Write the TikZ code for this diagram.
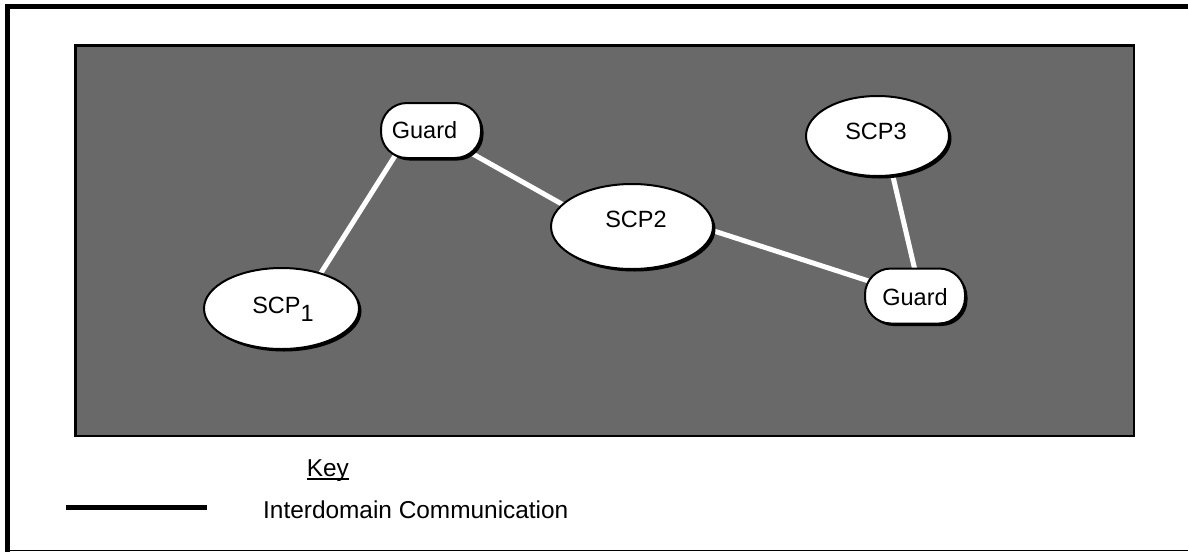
\documentclass[tikz,border=0pt]{standalone}
\usepackage{fontspec}
\setmainfont{Liberation Sans}
\usetikzlibrary{shapes.geometric,shadows,calc}
\pgfdeclarelayer{back}
\pgfdeclarelayer{mid}
\pgfsetlayers{back,mid,main}
\definecolor{shade}{RGB}{105,105,105}
\newcommand\tlabel[3]{\makebox[0pt]{\hspace*{#1}\hspace*{#1}\raisebox{#2}[0pt][0pt]{#3}}}
\newcommand\keyul[1]{\setbox0\hbox{#1}\rlap{\rule[-3.4pt]{\wd0}{1.6pt}}\box0}
\begin{document}
\begin{tikzpicture}[x=1pt,y=-1pt,
  txt/.style={font=\fontsize{23.5}{28}\selectfont},
  keytxt/.style={font=\fontsize{24.4}{29}\selectfont, anchor=base west, inner sep=0pt},
  domnode/.style={txt, draw=black, line width=2pt, fill=white, inner sep=0pt,
     drop shadow={shadow xshift=2.5pt, shadow yshift=-2.5pt, opacity=1, fill=black}},
  scp/.style={domnode, ellipse},
  guard/.style={domnode, rectangle, rounded corners=26pt, minimum width=100pt, minimum height=55pt},
  link/.style={white, line width=5pt},
  keyline/.style={black, line width=5pt},
]
\useasboundingbox (0,0) rectangle (1188,552);
% outer frame
\fill[black] (5,4) rectangle (1188,9);
\fill[black] (5,4) rectangle (10,552);
\draw[black, line width=1.5pt] (5,550.3) -- (1188,550.3);
% shaded domain area
\begin{pgfonlayer}{back}
\draw[fill=shade, draw=black, line width=2.5pt] (75.25,45.25) rectangle (1133.75,435.75);
\end{pgfonlayer}
% nodes
\node[guard] (g1) at (431,130.5) {\tlabel{-6.5pt}{-7.9pt}{Guard}};
\node[guard] (g2) at (915,296) {\tlabel{0pt}{-9.9pt}{Guard}};
\node[scp, minimum width=155pt, minimum height=81pt] (s1) at (281.5,308.5) {\tlabel{1.5pt}{-4.9pt}{SCP\raisebox{-8pt}{1}}};
\node[scp, minimum width=162pt, minimum height=85pt] (s2) at (632,226.5) {\tlabel{4pt}{-1.4pt}{SCP2}};
\node[scp, minimum width=143pt, minimum height=80pt] (s3) at (877.5,136) {\tlabel{-1.5pt}{-3.9pt}{SCP3}};
% links
\begin{pgfonlayer}{mid}
\draw[link] ($(g1.center)+(-20,0)$) -- ($(s1.center)+(17,0)$);
\draw[link] (g1.center) -- ($(s2.center)+(0,17)$);
\draw[link] ($(s2.center)+(0,-22)$) -- (g2.center);
\draw[link] ($(s3.center)+(6,0)$) -- ($(g2.center)+(6,0)$);
\end{pgfonlayer}
% key
\coordinate (kl1) at (66,507);
\coordinate (kl2) at (207,507);
\draw[keyline] (kl1) -- (kl2);
\node[keytxt] (key) at (306.7,476.6) {\keyul{Key}};
\node[keytxt] (ilabel) at (263,518.5) {Interdomain Communication};
\end{tikzpicture}
\end{document}
